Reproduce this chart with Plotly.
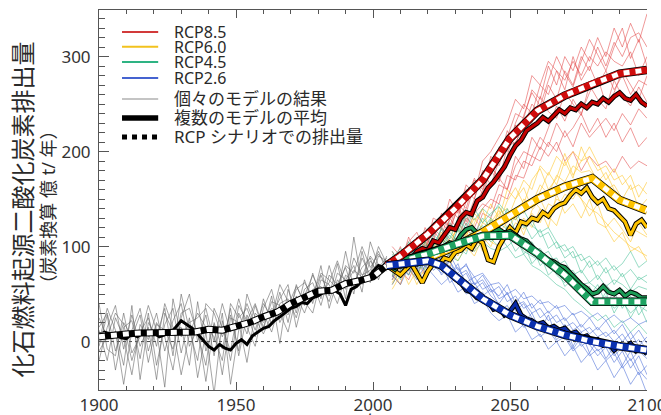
import plotly.graph_objects as go

# ---------------- data (億t C / 年) ----------------
hist_mean_years = list(range(1900, 2005, 2))
hist_mean = [6, 10, 8, 9, 4, 3, 8, 5, 9, 7, 10, 5, 7, 9, 15, 22, 18, 14, 8, 2,
             -5, -9, -3, -7, -9, -2, 2, -3, 6, 10, 14, 16, 22, 26, 31, 35, 37, 41, 40, 46,
             48, 52, 55, 54, 50, 38, 55, 58, 64, 66, 74, 80, 78]

hist_rcp_years = list(range(1900, 2006, 5))
hist_rcp = [5, 7, 8, 9, 9, 10, 10, 10, 13, 12, 16, 20, 26, 31, 40, 46, 53, 54, 61, 64, 68, 80]

hist_model_years = list(range(1900, 2006, 3))
hist_models = [
    [12, -20, 25, 4, -35, 18, 2, 30, -10, 22, 40, -5, 14, -42, 20, -8, 35, -15, 28, 5, 45, 18, 52, 20, 60, 38, 72, 45, 80, 50, 95, 55, 88, 70, 100, 82],
    [-5, 28, -30, 15, 22, -18, 30, -25, 18, 35, -12, 25, -38, 10, -55, 22, -20, 30, 8, 38, 12, 48, -2, 55, 30, 65, 40, 70, 48, 82, 45, 110, 60, 85, 72, 78],
    [25, 5, 10, -45, 12, 35, -10, 20, 5, -30, 25, 50, 0, 28, -15, 30, -45, 12, 40, 18, 30, 10, 40, 45, 25, 55, 62, 38, 70, 60, 78, 50, 95, 62, 90, 85],
    [-20, 15, 38, -8, 28, -5, 15, -40, 30, 10, 15, -25, 42, -10, 18, -35, 25, 20, -22, 30, 20, 35, 30, 10, 48, 30, 55, 58, 42, 72, 65, 80, 52, 105, 80, 76],
    [40, -8, -15, 30, -12, 5, 38, 12, -48, 45, 5, 20, 25, 35, 0, 40, 10, 45, 15, -5, 35, 55, 20, 38, 58, 42, 30, 65, 60, 40, 70, 62, 78, 88, 65, 90],
    [0, 35, 12, -25, 38, -40, 20, 5, 35, -15, 50, 12, -20, 40, 30, 5, 28, -10, 50, 25, 8, 28, 45, 60, 15, 50, 45, 80, 35, 65, 55, 88, 70, 75, 95, 74],
    [15, 30, -10, 20, 5, 28, -22, 18, 12, -8, 30, 35, 8, -25, 35, 15, -10, 38, 22, 40, 15, 42, 38, 28, 55, 62, 48, 72, 65, 55, 80, 72, 100, 78, 92, 80],
    [-10, 5, 30, 18, -20, 10, 25, -5, 40, 15, -35, 8, 30, 15, 5, -20, 40, 25, 35, 12, 40, 25, 60, 42, 35, 48, 70, 50, 62, 85, 60, 75, 68, 90, 78, 88],
]

fut_mean_years = list(range(2004, 2101, 2))
rcp85_mean = [78, 80, 76, 84, 88, 86, 95, 98, 96, 106, 104, 112, 120, 118, 130, 136, 134, 148, 152, 162,
              168, 176, 184, 196, 206, 212, 222, 226, 230, 236, 232, 238, 244, 240, 246, 244, 250, 246, 252, 250,
              256, 252, 258, 262, 256, 254, 260, 252, 248]
rcp60_mean = [78, 78, 74, 70, 76, 82, 72, 62, 74, 82, 80, 88, 86, 94, 96, 102, 98, 108, 104, 86,
              84, 100, 110, 120, 114, 126, 124, 130, 128, 136, 132, 140, 144, 146, 154, 160, 156, 162, 152, 146,
              150, 140, 138, 132, 126, 112, 124, 128, 120]
rcp45_mean = [78, 80, 76, 84, 82, 88, 86, 92, 90, 96, 94, 100, 104, 102, 112, 118, 120, 114, 112, 118,
              116, 118, 114, 116, 112, 108, 106, 100, 94, 90, 86, 84, 80, 78, 72, 66, 60, 56, 50, 52,
              58, 52, 50, 54, 48, 52, 50, 46, 46]
rcp26_mean = [78, 80, 78, 84, 80, 86, 82, 88, 84, 86, 80, 76, 72, 66, 62, 54, 52, 46, 44, 42,
              34, 36, 28, 32, 40, 28, 24, 22, 18, 20, 14, 16, 12, 14, 8, 10, 4, 6, 0, 2,
              -4, -2, -9, -4, -6, -2, -10, -8, -13]

rcp85_years = [2005, 2010, 2020, 2030, 2040, 2050, 2060, 2070, 2080, 2090, 2100]
rcp85_rcp = [80, 90, 113, 140, 170, 214, 243, 259, 271, 282, 286]
rcp60_years = [2005, 2010, 2020, 2030, 2040, 2050, 2060, 2070, 2080, 2090, 2100]
rcp60_rcp = [80, 81, 88, 100, 115, 133, 150, 163, 172, 149, 138]
rcp45_years = [2005, 2010, 2020, 2030, 2040, 2050, 2060, 2070, 2080, 2090, 2100]
rcp45_rcp = [80, 84, 92, 102, 111, 112, 93, 70, 42, 42, 42]
rcp26_years = [2005, 2010, 2020, 2025, 2030, 2040, 2050, 2060, 2070, 2080, 2090, 2100]
rcp26_rcp = [80, 82, 85, 80, 68, 45, 28, 16, 7, 0, -5, -9]

fut_model_years = list(range(2007, 2101, 3))
rcp85_models = [
    [95, 80, 110, 90, 120, 105, 135, 120, 150, 140, 170, 160, 195, 185, 215, 240, 235, 265, 255, 290, 270, 300, 285, 310, 295, 320, 300, 330, 310, 335, 315, 345],
    [60, 75, 65, 85, 70, 95, 85, 100, 95, 118, 110, 135, 130, 155, 150, 175, 172, 195, 190, 210, 200, 222, 205, 230, 215, 225, 235, 222, 240, 228, 245, 235],
    [80, 100, 75, 105, 95, 120, 110, 140, 130, 160, 150, 180, 175, 205, 200, 230, 250, 240, 270, 260, 285, 275, 295, 280, 300, 290, 305, 295, 290, 305, 280, 300],
    [70, 60, 90, 80, 100, 88, 110, 98, 125, 115, 135, 145, 140, 165, 160, 185, 200, 195, 215, 205, 230, 215, 225, 240, 220, 235, 215, 230, 210, 225, 205, 215],
    [85, 95, 80, 110, 100, 125, 118, 150, 135, 165, 155, 190, 200, 215, 230, 255, 245, 280, 270, 295, 285, 265, 300, 275, 290, 270, 285, 265, 280, 260, 275, 270],
    [65, 85, 95, 75, 105, 90, 120, 105, 110, 130, 120, 140, 150, 145, 175, 170, 190, 185, 205, 195, 210, 190, 200, 180, 195, 185, 190, 178, 195, 182, 190, 185],
    [100, 90, 105, 115, 95, 130, 125, 115, 145, 135, 165, 170, 185, 170, 205, 210, 225, 250, 240, 270, 255, 285, 270, 300, 285, 310, 290, 315, 300, 320, 325, 310],
    [75, 88, 102, 84, 96, 118, 104, 128, 142, 126, 150, 178, 165, 190, 222, 205, 238, 262, 248, 275, 300, 282, 268, 295, 318, 302, 285, 310, 330, 298, 318, 290],
    [88, 72, 80, 98, 112, 96, 104, 130, 118, 148, 172, 155, 180, 168, 195, 228, 212, 230, 258, 242, 235, 262, 250, 238, 270, 255, 245, 275, 258, 248, 268, 252],
    [68, 80, 92, 100, 86, 110, 132, 118, 140, 122, 145, 158, 185, 172, 160, 195, 182, 215, 202, 225, 248, 232, 255, 240, 262, 278, 250, 262, 285, 270, 255, 280],
]
rcp60_models = [
    [90, 75, 100, 85, 105, 95, 115, 100, 125, 110, 135, 125, 145, 130, 160, 150, 170, 160, 185, 175, 195, 185, 200, 190, 195, 180, 185, 170, 175, 160, 165, 155],
    [65, 80, 60, 75, 70, 85, 75, 95, 85, 100, 90, 110, 100, 120, 110, 125, 118, 135, 125, 145, 140, 155, 150, 165, 158, 150, 145, 135, 130, 120, 115, 110],
    [75, 60, 85, 70, 90, 80, 100, 92, 110, 100, 95, 115, 105, 100, 120, 110, 130, 120, 140, 130, 150, 145, 160, 150, 140, 135, 125, 115, 108, 100, 95, 90],
    [55, 70, 80, 60, 78, 95, 82, 105, 90, 115, 105, 125, 120, 135, 140, 128, 150, 145, 165, 155, 175, 168, 185, 178, 180, 170, 160, 165, 150, 145, 140, 135],
    [85, 95, 70, 90, 80, 100, 110, 90, 105, 120, 115, 95, 130, 115, 125, 140, 135, 150, 140, 120, 155, 135, 145, 130, 150, 125, 120, 105, 115, 95, 100, 85],
    [80, 68, 92, 102, 84, 96, 108, 122, 98, 112, 130, 118, 110, 142, 128, 150, 162, 140, 158, 178, 165, 190, 172, 205, 185, 168, 178, 160, 150, 165, 140, 150],
    [70, 88, 76, 66, 94, 82, 90, 78, 102, 120, 108, 100, 125, 138, 118, 132, 112, 138, 150, 132, 122, 148, 165, 150, 132, 145, 120, 130, 118, 105, 125, 112],
    [62, 78, 86, 95, 72, 88, 98, 108, 118, 95, 125, 140, 112, 125, 148, 162, 145, 170, 182, 160, 172, 198, 175, 190, 205, 188, 170, 182, 165, 175, 152, 168],
]
rcp45_models = [
    [95, 80, 105, 90, 112, 100, 120, 108, 130, 118, 140, 125, 135, 142, 128, 138, 120, 128, 110, 115, 98, 102, 88, 92, 78, 85, 72, 80, 68, 76, 65, 70],
    [70, 85, 75, 92, 80, 98, 88, 105, 95, 110, 100, 115, 105, 112, 100, 108, 95, 90, 85, 78, 72, 65, 58, 52, 45, 40, 48, 35, 42, 30, 38, 32],
    [80, 65, 90, 75, 95, 85, 100, 115, 105, 125, 112, 130, 120, 125, 118, 105, 110, 95, 98, 85, 88, 72, 75, 60, 62, 55, 60, 50, 55, 45, 50, 42],
    [60, 75, 88, 70, 85, 78, 95, 90, 85, 100, 95, 105, 98, 95, 100, 88, 92, 80, 75, 68, 60, 55, 45, 38, 30, 22, 28, 15, 22, 10, 18, 8],
    [88, 98, 82, 105, 95, 112, 105, 125, 115, 135, 128, 140, 132, 145, 135, 128, 138, 122, 115, 120, 105, 95, 100, 85, 90, 80, 88, 75, 82, 95, 78, 85],
    [75, 90, 100, 85, 102, 92, 110, 98, 118, 108, 120, 110, 125, 115, 108, 118, 100, 105, 90, 95, 80, 85, 70, 75, 62, 70, 58, 65, 60, 52, 58, 55],
    [82, 70, 95, 108, 88, 100, 118, 102, 110, 132, 120, 105, 128, 118, 140, 115, 125, 108, 118, 98, 105, 88, 95, 72, 85, 65, 78, 60, 72, 55, 68, 62],
    [92, 78, 70, 88, 105, 90, 98, 112, 100, 92, 115, 122, 108, 100, 122, 110, 92, 102, 80, 88, 70, 62, 72, 55, 48, 60, 40, 52, 35, 48, 28, 40],
    [68, 84, 92, 80, 76, 95, 108, 92, 120, 105, 98, 118, 130, 120, 112, 95, 105, 82, 92, 70, 78, 58, 66, 48, 58, 38, 52, 30, 45, 25, 40, 20],
]
rcp26_models = [
    [90, 75, 100, 85, 95, 80, 88, 72, 78, 62, 68, 55, 60, 45, 50, 38, 42, 30, 35, 22, 28, 15, 20, 10, 15, 5, 10, 0, 8, -5, 2, -8],
    [65, 82, 70, 90, 78, 88, 70, 80, 60, 65, 48, 52, 35, 40, 25, 30, 15, 20, 5, 12, 0, 5, -10, -2, -15, -8, -20, -12, -28, -18, -35, -25],
    [80, 95, 85, 100, 90, 95, 85, 92, 75, 80, 68, 72, 60, 62, 50, 55, 45, 48, 40, 42, 35, 38, 28, 32, 25, 30, 22, 28, 20, 25, 18, 22],
    [70, 60, 78, 65, 80, 70, 60, 68, 52, 58, 40, 45, 30, 22, 28, 10, 18, 2, 8, -8, 0, -15, -5, -22, -12, -30, -20, -38, -25, -45, -32, -55],
    [85, 70, 92, 78, 85, 92, 78, 85, 70, 75, 60, 65, 52, 58, 42, 48, 35, 40, 25, 32, 20, 25, 12, 18, 8, 15, 5, 12, 0, 10, -5, 5],
    [75, 88, 80, 72, 88, 75, 82, 62, 68, 50, 55, 40, 45, 32, 38, 22, 28, 15, 20, 10, 14, 2, 8, -5, 2, -10, -3, -15, -6, -20, -10, -18],
    [82, 92, 74, 88, 96, 80, 72, 85, 65, 72, 55, 62, 48, 40, 52, 32, 40, 25, 12, 28, 5, 18, -5, 10, -12, 2, -18, -5, -25, -10, -30, -40],
    [72, 80, 90, 76, 82, 98, 75, 70, 82, 58, 62, 48, 55, 38, 30, 42, 20, 30, 12, 18, 2, 10, -8, 5, -3, -15, -6, -22, -10, -28, -15, -35],
    [88, 78, 85, 95, 72, 82, 90, 78, 72, 82, 60, 70, 55, 48, 60, 40, 52, 35, 44, 30, 38, 22, 30, 15, 25, 12, 22, 8, 18, 2, 12, -2],
]

legend_labels = ["RCP8.5", "RCP6.0", "RCP4.5", "RCP2.6",
                 "個々のモデルの結果", "複数のモデルの平均", "RCP シナリオでの排出量"]
x_ticks = [1900, 1950, 2000, 2050, 2100]
y_ticks = [0, 100, 200, 300]

# ---------------- figure ----------------
fig = go.Figure()

def add_line(x, y, color, width, dash=None):
    fig.add_trace(go.Scatter(x=x, y=y, mode="lines", showlegend=False, hoverinfo="skip",
                             line=dict(color=color, width=width, dash=dash)))

for m in hist_models:
    add_line(hist_model_years, m, "rgba(105,105,105,0.6)", 1.0)
for m in rcp85_models:
    add_line(fut_model_years, m, "rgba(225,70,70,0.55)", 1.0)
for m in rcp60_models:
    add_line(fut_model_years, m, "rgba(255,200,50,0.6)", 1.0)
for m in rcp45_models:
    add_line(fut_model_years, m, "rgba(50,185,140,0.5)", 1.0)
for m in rcp26_models:
    add_line(fut_model_years, m, "rgba(70,105,215,0.55)", 1.0)

# multi-model means (black outline + coloured core)
add_line(hist_mean_years, hist_mean, "black", 3)
for y, c in [(rcp85_mean, "#c40000"), (rcp60_mean, "#ffc400"),
             (rcp45_mean, "#1a9a55"), (rcp26_mean, "#0a2aa8")]:
    add_line(fut_mean_years, y, "black", 5)
    add_line(fut_mean_years, y, c, 3)

# RCP scenario emissions (coloured + white dashes)
add_line(hist_rcp_years, hist_rcp, "black", 7)
add_line(hist_rcp_years, hist_rcp, "white", 5, "6px,6px")
for xx, y, c in [(rcp60_years, rcp60_rcp, "#ffc400"), (rcp45_years, rcp45_rcp, "#1fa463"),
                 (rcp85_years, rcp85_rcp, "#d00c0c"), (rcp26_years, rcp26_rcp, "#0a30b0")]:
    add_line(xx, y, "black", 8.5)
    add_line(xx, y, c, 7)
    add_line(xx, y, "white", 5, "6px,6px")

fig.add_hline(y=0, line=dict(color="#444", width=1, dash="dot"), layer="below")

# ---------------- manual legend ----------------
leg_rows = [0.942, 0.903, 0.863, 0.821, 0.766, 0.716, 0.666]
leg_styles = [("#d23a3a", 2, None), ("#f2c21e", 2, None), ("#2eb383", 2, None),
              ("#4563d0", 2, None), ("#c4c4c4", 2, None), ("black", 5.5, None), ("black", 5, "dot")]
for (c, w, d), yy, lab in zip(leg_styles, leg_rows, legend_labels):
    fig.add_shape(type="line", xref="paper", yref="paper", x0=0.042, x1=0.108, y0=yy, y1=yy,
                  line=dict(color=c, width=w, dash=d))
    fs = 16 if lab.startswith("RCP") and len(lab) < 8 else 17
    fig.add_annotation(xref="paper", yref="paper", x=0.133, y=yy, xanchor="left", yanchor="middle",
                       text=lab, showarrow=False, font=dict(size=fs, color="#2a2a2a"))

# axis titles
fig.add_annotation(xref="paper", yref="paper", x=-0.1405, y=0.475, textangle=-90,
                   text="化石燃料起源二酸化炭素排出量", showarrow=False,
                   font=dict(size=24, color="#2a2a2a"), xanchor="center", yanchor="middle")
fig.add_annotation(xref="paper", yref="paper", x=-0.093, y=0.48, textangle=-90,
                   text="（炭素換算 億 t/ 年）", showarrow=False,
                   font=dict(size=18, color="#2a2a2a"), xanchor="center", yanchor="middle")
fig.add_annotation(xref="paper", yref="paper", x=0.5, y=-0.082, text="年", showarrow=False,
                   font=dict(size=17, color="#2a2a2a"), xanchor="center", yanchor="middle")

fig.update_layout(
    width=661, height=415,
    margin=dict(l=99, r=14, t=10, b=25, autoexpand=False),
    paper_bgcolor="white", plot_bgcolor="white",
    font=dict(family="Noto Sans, Noto Sans CJK JP, sans-serif", color="#333"),
    showlegend=False,
)
fig.update_xaxes(range=[1900, 2100], tickvals=x_ticks, ticks="inside", ticklen=8, tickcolor="#555",
                 showline=True, linecolor="#555", linewidth=1, mirror="ticks", showgrid=False,
                 zeroline=False, tickfont=dict(size=17, color="#333"), ticklabeloverflow="allow",
                 minor=dict(dtick=10, tick0=1900, ticks="inside", ticklen=4, tickcolor="#555"))
fig.update_yaxes(range=[-51, 349], tickvals=y_ticks, ticks="inside", ticklen=10, tickcolor="#555",
                 showline=True, linecolor="#555", linewidth=1, showgrid=False, zeroline=False,
                 tickfont=dict(size=17, color="#333"), ticklabelstandoff=4,
                 minor=dict(dtick=10, tick0=0, ticks="inside", ticklen=6, tickcolor="#555"))

fig.write_html("out.html", config={"displayModeBar": False},
               post_script="document.body.style.margin='0';document.body.style.overflow='hidden';")
